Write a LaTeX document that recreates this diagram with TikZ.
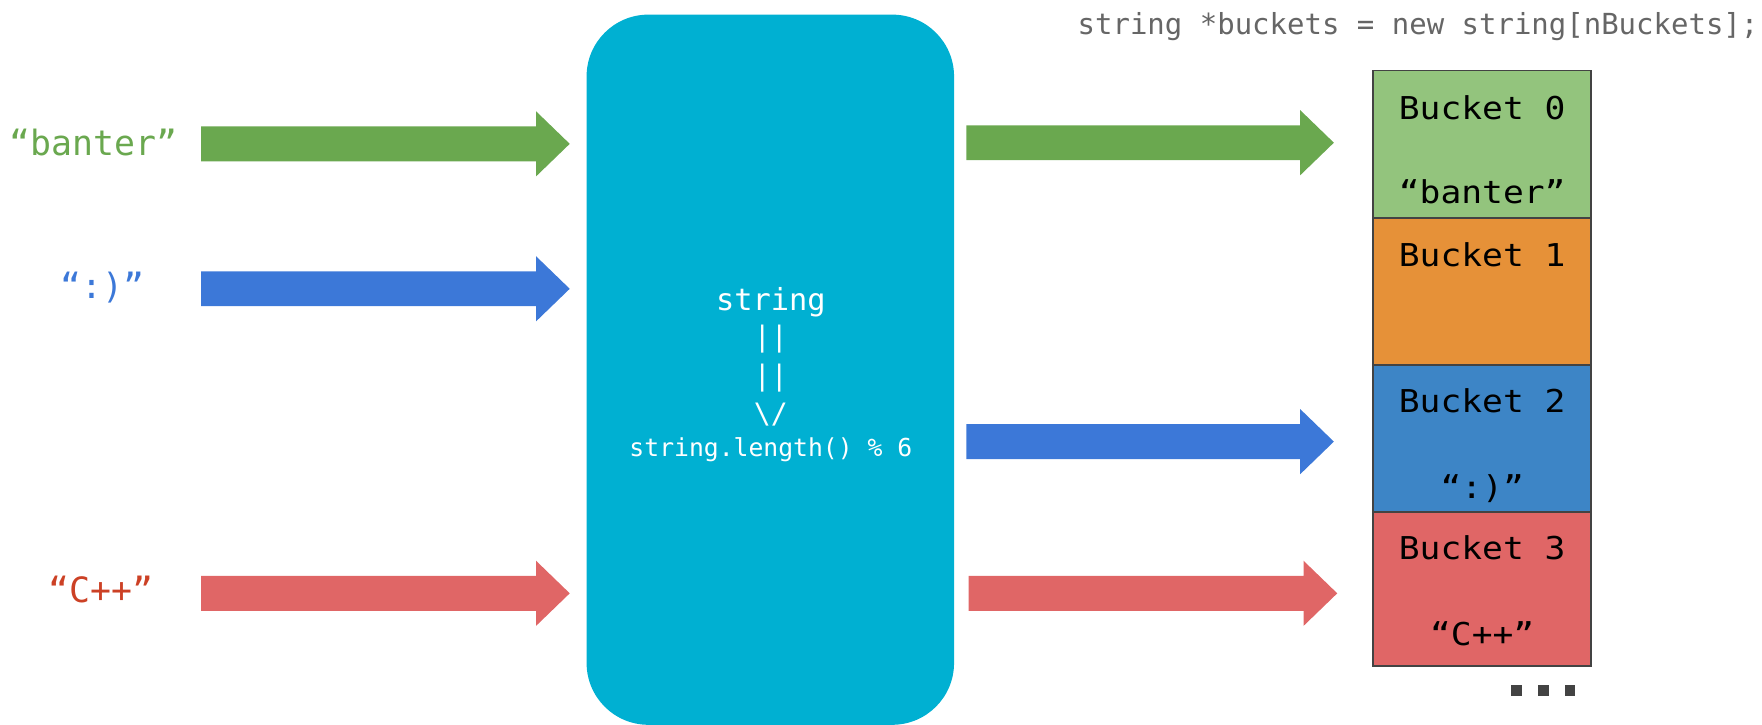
\documentclass[tikz,border=0pt]{standalone}
\usepackage{fontspec}
\usetikzlibrary{calc}
\newfontfamily\codefont{DejaVu Sans Mono}
\newfontfamily\bktfont{DejaVu Sans Mono}[FakeStretch=1.1]

\definecolor{hashcol}{RGB}{0,176,210}
\definecolor{greenA}{HTML}{6AA84F}
\definecolor{blueA}{HTML}{3C78D8}
\definecolor{redA}{HTML}{E06666}
\definecolor{redT}{HTML}{CC4125}
\definecolor{bkzero}{HTML}{93C47D}
\definecolor{bkone}{HTML}{E69138}
\definecolor{bktwo}{HTML}{3D85C6}
\definecolor{bkthree}{HTML}{E06666}
\definecolor{edgegrey}{HTML}{434343}
\definecolor{codegrey}{HTML}{666666}

\tikzset{
  % thick block arrow: shaft 31 high, head 58 high and 30 long
  fatarrow/.style={fill=#1, to path={
    ($(\tikztostart)+(0,-15.5)$) -- ($(\tikztotarget)+(-30,-15.5)$)
    -- ($(\tikztotarget)+(-30,-29)$) -- (\tikztotarget)
    -- ($(\tikztotarget)+(-30,29)$) -- ($(\tikztotarget)+(-30,15.5)$)
    -- ($(\tikztostart)+(0,15.5)$) -- cycle}},
  bucket/.style={draw=edgegrey, line width=1.5pt, fill=#1,
    minimum width=194pt, inner sep=0pt, anchor=north},
  lbl/.style={font=\codefont\fontsize{31}{37}\selectfont, inner sep=0pt, anchor=base},
  bktxt/.style={font=\bktfont\fontsize{28}{34}\selectfont, inner sep=0pt, anchor=base},
  hashtxt/.style={text=white, inner sep=0pt, anchor=base},
  dot/.style={fill=edgegrey, minimum size=9pt, inner sep=0pt},
}

\begin{document}
\begin{tikzpicture}[x=1pt,y=-1pt]
\useasboundingbox (0,0) rectangle (1568,645);

% hash function block
\node[fill=hashcol, rounded corners=55pt, minimum width=327pt,
      minimum height=632pt, inner sep=0pt] (hash) at (685.5,329) {};
\node[hashtxt, font=\codefont\fontsize{27}{32}\selectfont] (h1) at (686,276) {string};
\node[hashtxt, font=\codefont\fontsize{25}{30}\selectfont] (h2) at (686,308) {||};
\node[hashtxt, font=\codefont\fontsize{25}{30}\selectfont] (h3) at (686,343) {||};
\node[hashtxt, font=\codefont\fontsize{25}{30}\selectfont] (h4) at (686,377) {\textbackslash/};
\node[hashtxt, font=\codefont\fontsize{22}{26}\selectfont] (h5) at (686,406) {string.length() \% 6};

% declaration of the bucket array
\node[font=\codefont\fontsize{25.8}{30}\selectfont, text=codegrey, inner sep=0pt,
      anchor=base east] (decl) at (1565,31) {string *buckets = new string[nBuckets];};

% input strings
\node[lbl, text=greenA] (in0) at (83,138) {“banter”};
\node[lbl, text=blueA] (in1) at (91,266) {“:)”};
\node[lbl, text=redT] (in2) at (90,536) {“C++”};

% arrow end points
\coordinate (a0s) at (179,128);  \coordinate (a0e) at (507,128);
\coordinate (a1s) at (179,257);  \coordinate (a1e) at (507,257);
\coordinate (a2s) at (179,528);  \coordinate (a2e) at (507,528);
\coordinate (o0s) at (860,127);  \coordinate (o0e) at (1187,127);
\coordinate (o2s) at (860,393);  \coordinate (o2e) at (1187,393);
\coordinate (o3s) at (862,528);  \coordinate (o3e) at (1190,528);

\path[fatarrow=greenA] (a0s) to (a0e);
\path[fatarrow=blueA]  (a1s) to (a1e);
\path[fatarrow=redA]   (a2s) to (a2e);
\path[fatarrow=greenA] (o0s) to (o0e);
\path[fatarrow=blueA]  (o2s) to (o2e);
\path[fatarrow=redA]   (o3s) to (o3e);

% buckets
\node[bucket=bkzero,  minimum height=131pt] (b0) at (1319,62) {};
\node[bucket=bkone,   minimum height=131pt] (b1) at (1319,193) {};
\node[bucket=bktwo,   minimum height=131pt] (b2) at (1319,324) {};
\node[bucket=bkthree, minimum height=137pt] (b3) at (1319,455) {};

\node[bktxt] (b0t) at (1319,106) {Bucket 0};
\node[bktxt] (b1t) at (1319,237) {Bucket 1};
\node[bktxt] (b2t) at (1319,367.5) {Bucket 2};
\node[bktxt] (b3t) at (1319,498) {Bucket 3};
\node[bktxt] (b0v) at (1319,181) {“banter”};
\node[bktxt] (b2v) at (1319,444) {“:)”};
\node[bktxt] (b3v) at (1319,574) {“C++”};

% more buckets follow
\node[dot] (d1) at (1349.5,614.5) {};
\node[dot] (d2) at (1373.5,614.5) {};
\node[dot] (d3) at (1397.5,614.5) {};
\end{tikzpicture}
\end{document}
